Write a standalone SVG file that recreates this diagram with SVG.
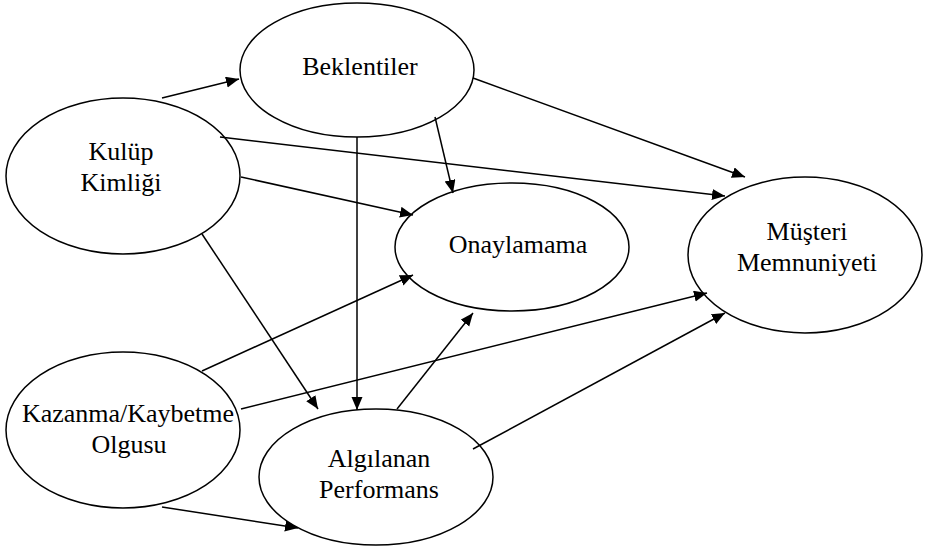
<svg xmlns="http://www.w3.org/2000/svg" width="937" height="551" viewBox="0 0 937 551">
  <style>
    .node ellipse { fill: #ffffff; stroke: #000000; stroke-width: 1.5; }
    .node text { font-family: "Liberation Serif", "Times New Roman", serif; font-size: 26px; fill: #000000; text-anchor: middle; }
    .edges line { stroke: #000000; stroke-width: 1.5; marker-end: url(#arrow); }
  </style>
  <defs>
    <marker id="arrow" markerUnits="userSpaceOnUse" markerWidth="14" markerHeight="12" refX="13" refY="5.5" orient="auto">
      <path d="M0,0 L13,5.5 L0,11 Z" fill="#000000"/>
    </marker>
  </defs>
  <rect width="937" height="551" fill="#ffffff"/>

  <g id="beklentiler" class="node">
    <ellipse cx="357" cy="70" rx="117" ry="67"/>
    <text x="360" y="75">Beklentiler</text>
  </g>
  <g id="kulup-kimligi" class="node">
    <ellipse cx="123" cy="176" rx="117" ry="78"/>
    <text x="121" y="160">Kulüp</text>
    <text x="121" y="191">Kimliği</text>
  </g>
  <g id="onaylamama" class="node">
    <ellipse cx="512" cy="247" rx="117" ry="64"/>
    <text x="518" y="253">Onaylamama</text>
  </g>
  <g id="musteri-memnuniyeti" class="node">
    <ellipse cx="805" cy="255" rx="117" ry="78"/>
    <text x="807" y="240">Müşteri</text>
    <text x="807" y="271">Memnuniyeti</text>
  </g>
  <g id="kazanma-kaybetme" class="node">
    <ellipse cx="123" cy="430" rx="117" ry="78"/>
    <text x="128" y="422">Kazanma/Kaybetme</text>
    <text x="129" y="453">Olgusu</text>
  </g>
  <g id="algilanan-performans" class="node">
    <ellipse cx="376" cy="477" rx="117" ry="68"/>
    <text x="379" y="467">Algılanan</text>
    <text x="379" y="498">Performans</text>
  </g>

  <g id="connectors" class="edges">
    <line x1="162" y1="98" x2="239" y2="79"/>
    <line x1="220" y1="137" x2="725" y2="196"/>
    <line x1="241" y1="177" x2="413" y2="215"/>
    <line x1="202" y1="234" x2="318" y2="409"/>
    <line x1="435" y1="117" x2="453" y2="193"/>
    <line x1="473" y1="78" x2="745" y2="177"/>
    <line x1="357" y1="137" x2="357" y2="410"/>
    <line x1="202" y1="371" x2="413" y2="275"/>
    <line x1="241" y1="409" x2="707" y2="293"/>
    <line x1="162" y1="507" x2="298" y2="528"/>
    <line x1="397" y1="409" x2="473" y2="313"/>
    <line x1="473" y1="449" x2="725" y2="313"/>
  </g>
</svg>
